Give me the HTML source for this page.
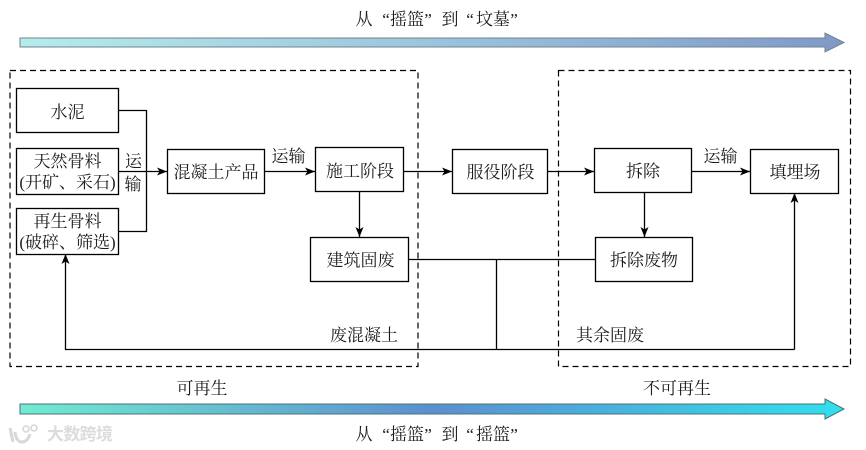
<!DOCTYPE html>
<html>
<head>
<meta charset="utf-8">
<style>
html,body{margin:0;padding:0;background:#fff;width:866px;height:450px;overflow:hidden}
svg{display:block}
text{font-family:"Liberation Serif","Noto Serif CJK SC",serif;font-size:17px;fill:#1c1c1c;text-anchor:middle}
.b{fill:#fff;stroke:#000;stroke-width:1.3}
.l{fill:none;stroke:#000;stroke-width:1.3}
.d{fill:none;stroke:#000;stroke-width:1.2;stroke-dasharray:6 4}
</style>
</head>
<body>
<svg width="866" height="450" viewBox="0 0 866 450" xmlns="http://www.w3.org/2000/svg">
<defs>
<linearGradient id="g1" gradientUnits="userSpaceOnUse" x1="20" y1="0" x2="844" y2="0">
<stop offset="0" stop-color="#b5ecea"/><stop offset="0.5" stop-color="#9cc4dc"/><stop offset="1" stop-color="#8099c8"/>
</linearGradient>
<linearGradient id="g2" gradientUnits="userSpaceOnUse" x1="20" y1="0" x2="844" y2="0">
<stop offset="0" stop-color="#70ecd0"/><stop offset="0.5" stop-color="#5b8fd0"/><stop offset="1" stop-color="#30e0ee"/>
</linearGradient>
<marker id="a" markerUnits="userSpaceOnUse" markerWidth="12" markerHeight="12" refX="10" refY="6" orient="auto">
<path d="M0,2 L10,6 L0,10 L2.5,6 Z" fill="#000"/>
</marker>
</defs>

<path d="M20,38 H825 V33 L844,42.5 L825,52 V47 H20 Z" fill="url(#g1)" stroke="#6f8490" stroke-width="1"/>
<path d="M20,404 H825 V399 L844,409 L825,419 V414 H20 Z" fill="url(#g2)" stroke="#4d7078" stroke-width="1"/>

<rect class="d" x="10" y="70.5" width="408" height="296"/>
<rect class="d" x="558.5" y="70.5" width="292" height="296"/>

<path class="l" d="M118,110.5 H146.5 V231.5 H118"/>
<path class="l" d="M118,171.5 H167" marker-end="url(#a)"/>
<path class="l" d="M264,171.5 H315" marker-end="url(#a)"/>
<path class="l" d="M403,171.5 H452" marker-end="url(#a)"/>
<path class="l" d="M547,171.5 H594" marker-end="url(#a)"/>
<path class="l" d="M691,171.5 H750" marker-end="url(#a)"/>
<path class="l" d="M359.5,191 V237" marker-end="url(#a)"/>
<path class="l" d="M644.5,192 V237" marker-end="url(#a)"/>
<path class="l" d="M408,259.5 H595"/>
<path class="l" d="M496.5,259.5 V349.5"/>
<path class="l" d="M794.5,349.5 H65.5 V254" marker-end="url(#a)"/>
<path class="l" d="M794.5,349.5 V193" marker-end="url(#a)"/>

<rect class="b" x="16.5" y="88.5" width="102" height="44"/>
<rect class="b" x="16.5" y="148.5" width="102" height="46"/>
<rect class="b" x="16.5" y="208.5" width="102" height="46"/>
<rect class="b" x="167.5" y="149.5" width="97" height="44"/>
<rect class="b" x="315.5" y="147.5" width="88" height="44"/>
<rect class="b" x="452.5" y="149.5" width="95" height="44"/>
<rect class="b" x="594.5" y="148.5" width="97" height="44"/>
<rect class="b" x="750.5" y="149.5" width="88" height="44"/>
<rect class="b" x="310.5" y="237.5" width="98" height="44"/>
<rect class="b" x="595.5" y="237.5" width="97" height="44"/>

<text x="364" y="25">从</text>
<text x="386" y="25">“</text>
<text x="407" y="25">摇篮</text>
<text x="428" y="25">”</text>
<text x="450" y="25">到</text>
<text x="470" y="25">“</text>
<text x="493" y="25">坟墓</text>
<text x="514" y="25">”</text>

<text x="67.5" y="118">水泥</text>
<text x="67.5" y="167">天然骨料</text>
<text x="67.5" y="188">(开矿、采石)</text>
<text x="67.5" y="227">再生骨料</text>
<text x="67.5" y="248">(破碎、筛选)</text>
<text x="133.5" y="167">运</text>
<text x="133" y="190">输</text>
<text x="216" y="178">混凝土产品</text>
<text x="288.5" y="162">运输</text>
<text x="360" y="177">施工阶段</text>
<text x="500.5" y="178">服役阶段</text>
<text x="643" y="177">拆除</text>
<text x="720.5" y="162">运输</text>
<text x="795" y="178">填埋场</text>
<text x="360.5" y="266">建筑固废</text>
<text x="644" y="266">拆除废物</text>
<text x="364" y="341">废混凝土</text>
<text x="610" y="341">其余固废</text>
<text x="202" y="394">可再生</text>
<text x="677" y="394">不可再生</text>

<text x="364" y="440">从</text>
<text x="386" y="440">“</text>
<text x="407" y="440">摇篮</text>
<text x="428" y="440">”</text>
<text x="450" y="440">到</text>
<text x="470" y="440">“</text>
<text x="493" y="440">摇篮</text>
<text x="514" y="440">”</text>

<g>
<path d="M10,428 L13,442 M15,432 C16,445 27,445 30,434" fill="none" stroke="#d8d8d8" stroke-width="3"/>
<circle cx="26" cy="429" r="3" fill="none" stroke="#d8d8d8" stroke-width="1.6"/>
<circle cx="34" cy="428" r="3" fill="none" stroke="#d8d8d8" stroke-width="1.6"/>
<text x="80" y="440" style="font-family:'Liberation Sans','Noto Sans CJK SC',sans-serif;font-size:17px;font-weight:700;fill:#dcdcdc" textLength="66" lengthAdjust="spacing">大数跨境</text>
</g>
</svg>
</body>
</html>
